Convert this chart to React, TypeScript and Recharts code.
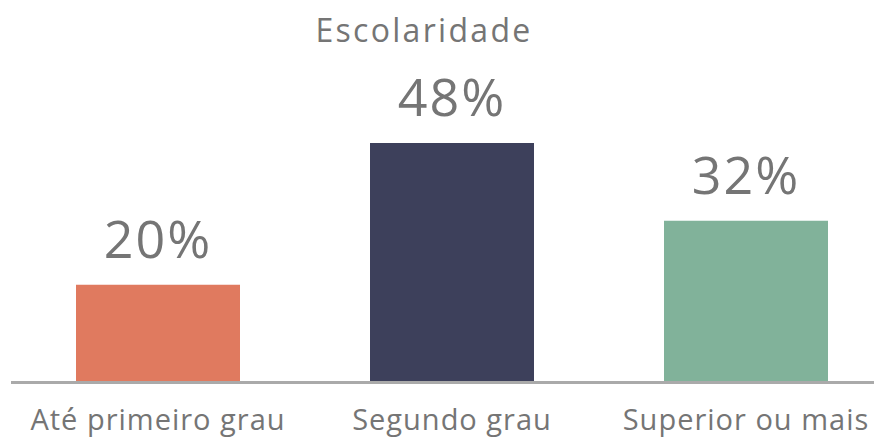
import React from "react";
import { BarChart, Bar, XAxis, YAxis, Cell, LabelList } from "recharts";

const categories = ["Até primeiro grau", "Segundo grau", "Superior ou mais"];
const values = [19.6, 48.0, 32.4];
const colors = ["#E07A5F", "#3D405B", "#81B29A"];
const title = "Escolaridade";

const data = categories.map((name, i) => ({ name, value: values[i] }));

const FONT = "'Open Sans', sans-serif";
const TEXT_COLOR = "#757575";

export default function App() {
  return (
    <div
      style={{
        position: "relative",
        width: 882,
        height: 439,
        marginTop: -8,
        marginLeft: -8,
        overflow: "hidden",
        background: "#fff",
      }}
    >
      <div
        style={{
          position: "absolute",
          left: 0,
          top: 12,
          width: 848,
          textAlign: "center",
          fontFamily: FONT,
          fontSize: 32,
          lineHeight: "36px",
          color: TEXT_COLOR,
          letterSpacing: 2.3,
        }}
      >
        {title}
      </div>
      <BarChart
        width={900}
        height={439}
        data={data}
        margin={{ top: 133, right: 7, bottom: 0, left: 11 }}
        barCategoryGap={65}
      >
        <YAxis hide domain={[0, 50]} />
        <Bar dataKey="value" isAnimationActive={false}>
          {data.map((d, i) => (
            <Cell key={d.name} fill={colors[i]} />
          ))}
          <LabelList
            dataKey="value"
            position="top"
            offset={27}
            formatter={(v: number) => `${Math.round(v)}%`}
            style={{ fontFamily: FONT, fontSize: 52, fill: TEXT_COLOR, letterSpacing: 2 }}
          />
        </Bar>
        <XAxis
          dataKey="name"
          height={56.5}
          tickLine={false}
          tickSize={0}
          tickMargin={27}
          axisLine={{ stroke: "#AAAAAA", strokeWidth: 3 }}
          tick={{ fontFamily: FONT, fontSize: 29, fill: TEXT_COLOR, letterSpacing: 1 }}
          interval={0}
        />
      </BarChart>
    </div>
  );
}
